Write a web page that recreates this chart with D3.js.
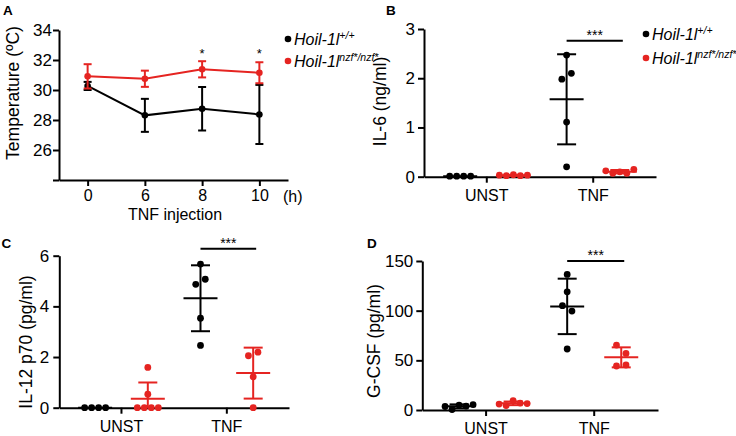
<!DOCTYPE html>
<html>
<head>
<meta charset="utf-8">
<script src="https://cdn.jsdelivr.net/npm/d3@7"></script>
<style>
  body { margin: 0; background: #fff; }
  svg { display: block; font-family: "Liberation Sans", Arial, sans-serif; }
</style>
</head>
<body>
<svg id="chart" width="736" height="436"></svg>
<script>
  // panel A - body temperature after TNF injection (mean +/- sd)
  var hours = ["0", "6", "8", "10"];
  var wtTempMean = [30.27, 28.31, 28.75, 28.37];
  var wtTempSD = [0.27, 1.1, 1.45, 1.97];
  var mutTempMean = [30.91, 30.75, 31.38, 31.15];
  var mutTempSD = [0.81, 0.54, 0.54, 0.7];
  var tempTicks = [24, 26, 28, 30, 32, 34];
  var tempStars = ["8", "10"];

  var conditions = ["UNST", "TNF"];
  var genotypes = ["wt", "mut"];

  // panel B - IL-6 (ng/ml)
  var il6UnstWt = [0.01, 0.01, 0.01, 0.01];
  var il6UnstMut = [0.03, 0.02, 0.04, 0.02, 0.03];
  var il6TnfWt = [2.47, 1.98, 2.10, 1.11, 0.20];
  var il6TnfMut = [0.12, 0.07, 0.10, 0.07, 0.15];
  var il6Ticks = [0, 1, 2, 3];

  // panel C - IL-12 p70 (pg/ml)
  var il12UnstWt = [0, 0, 0, 0];
  var il12UnstMut = [1.59, 0.53, 0, 0, 0, 0];
  var il12TnfWt = [5.67, 4.87, 5.07, 3.53, 2.46];
  var il12TnfMut = [2.05, 2.19, 1.22, 0];
  var il12Ticks = [0, 2, 4, 6];

  // panel D - G-CSF (pg/ml)
  var gcsfUnstWt = [3.5, 0.5, 5, 4, 5.5];
  var gcsfUnstMut = [6, 4.5, 9.5, 7, 6.5];
  var gcsfTnfWt = [136.5, 119, 105, 99.6, 61.4];
  var gcsfTnfMut = [65.4, 57, 44.3, 45.3];
  var gcsfTicks = [0, 50, 100, 150];

  var BLACK = "#000", RED = "#e52421";
  var colors = {wt: BLACK, mut: RED};
  var sups = {wt: "+/+", mut: "nzf*/nzf*"};

  var svg = d3.select("#chart");

  function styleAxis(g, fontSize) {
    g.select(".domain").attr("stroke", BLACK).attr("stroke-width", 2);
    g.selectAll(".tick line").attr("stroke", BLACK).attr("stroke-width", 2);
    g.selectAll(".tick text").attr("fill", BLACK).style("font-size", fontSize + "px");
  }

  function panelLetter(t, x, y) {
    svg.append("text").attr("x", x).attr("y", y)
        .style("font-size", "13.5px").style("font-weight", "bold").text(t);
  }

  function yTitle(t, x, y) {
    svg.append("text")
        .attr("transform", "translate(" + x + "," + y + ") rotate(-90)")
        .attr("text-anchor", "middle")
        .style("font-size", "17.5px")
        .text(t);
  }

  function legend(x, baselines) {
    genotypes.forEach(function(gt, i) {
      svg.append("circle").attr("cx", x).attr("cy", baselines[i] - 6).attr("r", 3.3).attr("fill", colors[gt]);
      var t = svg.append("text").attr("x", x + 6).attr("y", baselines[i])
          .style("font-size", "16px").style("font-style", "italic");
      t.append("tspan").text("Hoil-1l");
      t.append("tspan").attr("dy", -6).style("font-size", "10.5px").text(sups[gt]);
    });
  }

  // prism style rows: points close in y share a row, spread sideways
  function swarm(values, y) {
    var idx = values.map(function(v, i) { return i; })
        .sort(function(a, b) { return (y(values[a]) - y(values[b])) || (a - b); });
    var rows = [], cur = null;
    idx.forEach(function(i) {
      var py = y(values[i]);
      if (cur && py - cur.y0 < 9) cur.items.push(i);
      else { cur = {y0: py, items: [i]}; rows.push(cur); }
    });
    var off = values.map(function() { return 0; });
    rows.forEach(function(r) {
      r.items.sort(function(a, b) { return a - b; });
      var n = r.items.length, gap = n >= 4 ? 7 : 9.5;
      r.items.forEach(function(i, k) { off[i] = (k - (n - 1) / 2) * gap; });
    });
    return off;
  }

  // ---------- panel A ----------
  var xA = d3.scalePoint().domain(hours).range([59, 288]).padding(0.5);
  var yA = d3.scaleLinear().domain([24, 34]).range([180, 30]);

  svg.append("g").attr("transform", "translate(0,180)")
      .call(d3.axisBottom(xA).tickSize(6).tickSizeOuter(0).tickPadding(4))
      .call(styleAxis, 16);
  svg.append("g").attr("transform", "translate(59,0)")
      .call(d3.axisLeft(yA).tickValues(tempTicks).tickSize(6).tickSizeOuter(0).tickPadding(1)
        .tickFormat(function(d) { return d === 24 ? "" : d; }))
      .call(styleAxis, 17);
  svg.append("text").attr("x", 283).attr("y", 201.5).style("font-size", "16px").text("(h)");
  svg.append("text").attr("x", 175).attr("y", 220).attr("text-anchor", "middle")
      .style("font-size", "16px").text("TNF injection");
  yTitle("Temperature (\u00baC)", 19, 93);
  panelLetter("A", 3, 15);

  [[wtTempMean, wtTempSD, BLACK], [mutTempMean, mutTempSD, RED]].forEach(function(s) {
    var mean = s[0], sd = s[1], col = s[2];
    var line = d3.line()
        .x(function(d, i) { return xA(hours[i]); })
        .y(function(d) { return yA(d); });
    svg.append("path").datum(mean).attr("d", line)
        .attr("fill", "none").attr("stroke", col).attr("stroke-width", 2);
    var eb = svg.append("g").attr("stroke", col).attr("stroke-width", 2);
    mean.forEach(function(m, i) {
      var cx = xA(hours[i]);
      eb.append("line").attr("x1", cx).attr("x2", cx).attr("y1", yA(m - sd[i])).attr("y2", yA(m + sd[i]));
      eb.append("line").attr("x1", cx - 4).attr("x2", cx + 4).attr("y1", yA(m - sd[i])).attr("y2", yA(m - sd[i]));
      eb.append("line").attr("x1", cx - 4).attr("x2", cx + 4).attr("y1", yA(m + sd[i])).attr("y2", yA(m + sd[i]));
    });
    svg.append("g").selectAll("circle").data(mean).enter().append("circle")
        .attr("cx", function(d, i) { return xA(hours[i]); })
        .attr("cy", function(d) { return yA(d); })
        .attr("r", 3.3).attr("fill", col);
  });
  tempStars.forEach(function(h) {
    svg.append("text").attr("x", xA(h)).attr("y", yA(32.15)).attr("text-anchor", "middle")
        .style("font-size", "13px").text("*");
  });
  legend(288, [45, 67]);

  // ---------- dot plots B, C, D ----------
  function dotPanel(o) {
    var x0 = d3.scaleBand().domain(conditions).range([o.left, o.right]).paddingInner(0).paddingOuter(0.09);
    var x1 = d3.scalePoint().domain(genotypes).range([0, x0.bandwidth()]).padding(0.5);
    var y = d3.scaleLinear().domain([0, o.max]).range([o.bottom, o.top]);

    svg.append("g").attr("transform", "translate(0," + o.bottom + ")")
        .call(d3.axisBottom(x0).tickSize(6).tickSizeOuter(0).tickPadding(7))
        .call(styleAxis, 16);
    svg.append("g").attr("transform", "translate(" + o.left + ",0)")
        .call(d3.axisLeft(y).tickValues(o.ticks).tickSize(6).tickSizeOuter(0).tickPadding(o.pad)
          .tickFormat(d3.format("d")))
        .call(styleAxis, 17);

    o.groups.forEach(function(gr) {
      var cx = x0(gr.cond) + x1(gr.geno), col = colors[gr.geno];
      var off = swarm(gr.values, y);
      svg.append("g").selectAll("circle").data(gr.values).enter().append("circle")
          .attr("cx", function(d, i) { return cx + off[i]; })
          .attr("cy", function(d) { return y(d); })
          .attr("r", 3.4).attr("fill", col);

      var m = d3.mean(gr.values), sd = d3.deviation(gr.values) || 0;
      var lo = Math.max(0, m - sd), hi = m + sd;
      var eb = svg.append("g").attr("stroke", col).attr("stroke-width", 2);
      eb.append("line").attr("x1", cx - 17).attr("x2", cx + 17).attr("y1", y(m)).attr("y2", y(m));
      if (sd > 0) {
        eb.append("line").attr("x1", cx).attr("x2", cx).attr("y1", y(lo)).attr("y2", y(hi));
        eb.append("line").attr("x1", cx - 9.5).attr("x2", cx + 9.5).attr("y1", y(hi)).attr("y2", y(hi));
        if (m - sd >= 0) {
          eb.append("line").attr("x1", cx - 9.5).attr("x2", cx + 9.5).attr("y1", y(lo)).attr("y2", y(lo));
        }
      }
    });

    // significance bar over the TNF pair
    var sx1 = x0("TNF") + x1("wt"), sx2 = x0("TNF") + x1("mut") + 3, sy = y(o.sig);
    svg.append("line").attr("x1", sx1).attr("x2", sx2).attr("y1", sy).attr("y2", sy)
        .attr("stroke", BLACK).attr("stroke-width", 2);
    svg.append("text").attr("x", (sx1 + sx2) / 2).attr("y", sy - 1).attr("text-anchor", "middle")
        .style("font-size", "14px").text("***");

    yTitle(o.title, o.titleX, o.titleY);
    panelLetter(o.letter, o.letterX, o.letterY);
  }

  dotPanel({
    left: 424, right: 656, top: 29, bottom: 176.7, max: 3, ticks: il6Ticks, pad: 3, sig: 2.76,
    title: "IL-6 (ng/ml)", titleX: 386, titleY: 101.5, letter: "B", letterX: 386, letterY: 14.5,
    groups: [
      {cond: "UNST", geno: "wt", values: il6UnstWt},
      {cond: "UNST", geno: "mut", values: il6UnstMut},
      {cond: "TNF", geno: "wt", values: il6TnfWt},
      {cond: "TNF", geno: "mut", values: il6TnfMut}
    ]
  });
  legend(646, [40, 64]);

  dotPanel({
    left: 59.3, right: 289, top: 255.7, bottom: 407.7, max: 6, ticks: il12Ticks, pad: 4, sig: 6.27,
    title: "IL-12 p70 (pg/ml)", titleX: 32, titleY: 342, letter: "C", letterX: 1.5, letterY: 248,
    groups: [
      {cond: "UNST", geno: "wt", values: il12UnstWt},
      {cond: "UNST", geno: "mut", values: il12UnstMut},
      {cond: "TNF", geno: "wt", values: il12TnfWt},
      {cond: "TNF", geno: "mut", values: il12TnfMut}
    ]
  });

  dotPanel({
    left: 422.3, right: 658, top: 261, bottom: 410, max: 150, ticks: gcsfTicks, pad: 3, sig: 150,
    title: "G-CSF (pg/ml)", titleX: 379.5, titleY: 341, letter: "D", letterX: 367, letterY: 248,
    groups: [
      {cond: "UNST", geno: "wt", values: gcsfUnstWt},
      {cond: "UNST", geno: "mut", values: gcsfUnstMut},
      {cond: "TNF", geno: "wt", values: gcsfTnfWt},
      {cond: "TNF", geno: "mut", values: gcsfTnfMut}
    ]
  });
</script>
</body>
</html>
